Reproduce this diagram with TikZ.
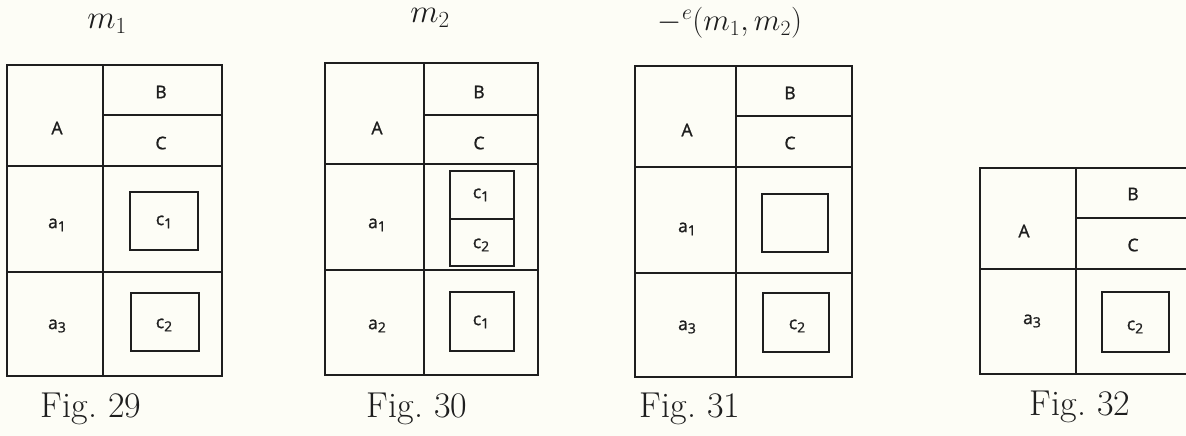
\RequirePackage{fix-cm}
\documentclass[tikz,border=0pt]{standalone}
\usepackage{fontspec}
\newfontfamily\labfont{Open Sans}[FakeBold=1.2]
\definecolor{paper}{HTML}{FDFDF6}
\definecolor{ink}{HTML}{1E1E1E}
\newcommand{\sub}[1]{\raisebox{-0.35ex}{\fontsize{14}{16}\selectfont #1}}
\begin{document}
\begin{tikzpicture}[x=1pt,y=-1pt,
  grid/.style={draw=ink,line width=1.4pt},
  lab/.style={text=ink,font=\labfont\fontsize{17.5}{20}\selectfont,inner sep=0pt},
  figcap/.style={text=ink,font=\fontsize{36}{42}\selectfont,inner sep=0pt,anchor=base},
  ttl/.style={text=ink,font=\fontsize{33}{38}\selectfont,inner sep=0pt,anchor=base}]
\fill[paper] (0,0) rectangle (1186,436);
\useasboundingbox (0,0) rectangle (1186,436);
% ---- Fig 29
\draw[grid] (7,65) rectangle (222,376);
\draw[grid] (103,65) -- (103,376);
\draw[grid] (103,115) -- (222,115);
\draw[grid] (7,166) -- (222,166);
\draw[grid] (7,272) -- (222,272);
\draw[grid] (130,192) rectangle (198,250);
\draw[grid] (131,293) rectangle (199,351);
\node[ttl] (t29) at (107,29) {$m_1$};
\node[figcap] (f29) at (91,417) {Fig.~29};
\node[lab] (A29) at (57,128) {A};
\node[lab] (B29) at (161,92) {B};
\node[lab] (C29) at (161,143) {C};
\node[lab] (a129) at (57,225) {a\sub{1}};
\node[lab] (c129) at (164,222) {c\sub{1}};
\node[lab] (a329) at (57,326) {a\sub{3}};
\node[lab] (c229) at (164,325) {c\sub{2}};
% ---- Fig 30
\draw[grid] (325,63) rectangle (538,375);
\draw[grid] (424,63) -- (424,375);
\draw[grid] (424,115) -- (538,115);
\draw[grid] (325,164) -- (538,164);
\draw[grid] (325,270) -- (538,270);
\draw[grid] (450,171) rectangle (514,266);
\draw[grid] (450,219) -- (514,219);
\draw[grid] (450,292) rectangle (514,351);
\node[ttl] (t30) at (430,23) {$m_2$};
\node[figcap] (f30) at (417,417) {Fig.~30};
\node[lab] (A30) at (377,128) {A};
\node[lab] (B30) at (479,92) {B};
\node[lab] (C30) at (479,143) {C};
\node[lab] (a130) at (377,225) {a\sub{1}};
\node[lab] (c130) at (481,195) {c\sub{1}};
\node[lab] (c230) at (481,245) {c\sub{2}};
\node[lab] (a230) at (377,326) {a\sub{2}};
\node[lab] (c1b30) at (481,322) {c\sub{1}};
% ---- Fig 31
\draw[grid] (635,66) rectangle (852,377);
\draw[grid] (736,66) -- (736,377);
\draw[grid] (736,116) -- (852,116);
\draw[grid] (635,167) -- (852,167);
\draw[grid] (635,273) -- (852,273);
\draw[grid] (762,194) rectangle (828,252);
\draw[grid] (763,293) rectangle (829,352);
\node[ttl,font=\fontsize{31}{36}\selectfont] (t31) at (730,31) {${-}^{e}(m_1,m_2)$};
\node[figcap] (f31) at (690,417) {Fig.~31};
\node[lab] (A31) at (687,130) {A};
\node[lab] (B31) at (790,93) {B};
\node[lab] (C31) at (790,143) {C};
\node[lab] (a131) at (687,229) {a\sub{1}};
\node[lab] (a331) at (687,327) {a\sub{3}};
\node[lab] (c231) at (797,326) {c\sub{2}};
% ---- Fig 32
\draw[grid] (1192,168) -- (980,168) -- (980,374) -- (1192,374);
\draw[grid] (1076,168) -- (1076,374);
\draw[grid] (1076,218) -- (1192,218);
\draw[grid] (980,269) -- (1192,269);
\draw[grid] (1102,292) rectangle (1169,352);
\node[figcap] (f32) at (1080,415) {Fig.~32};
\node[lab] (A32) at (1024,231) {A};
\node[lab] (B32) at (1133,194) {B};
\node[lab] (C32) at (1133,245) {C};
\node[lab] (a332) at (1032,321) {a\sub{3}};
\node[lab] (c232) at (1135,327) {c\sub{2}};
\end{tikzpicture}
\end{document}
